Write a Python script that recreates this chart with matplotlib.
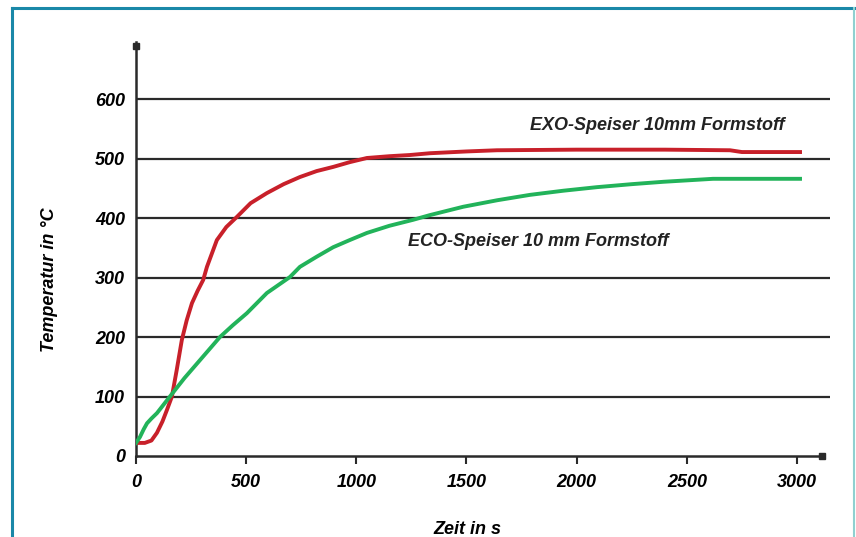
import numpy as np
import matplotlib.pyplot as plt
from matplotlib.lines import Line2D

# Werte
zeit_exo = [0, 40, 70, 95, 120, 140, 163, 185, 208, 230, 254, 280, 305, 322, 367, 410, 458, 520, 594, 670,
            744, 820, 895, 970, 1048, 1150, 1243, 1334, 1500, 1638, 2000, 2400, 2696, 2750, 3014]
temp_exo = [22, 22, 26, 39, 58, 77, 100, 145, 195, 228, 257, 278, 296, 318, 363, 385, 402, 425, 442, 457,
            469, 479, 486, 494, 501, 504, 506, 509, 512, 514, 515, 515, 514, 511, 511]
zeit_eco = [0, 18, 35, 50, 70, 95, 154, 220, 290, 381, 440, 503, 594, 699, 744, 820, 895, 970, 1048, 1150,
            1257, 1334, 1485, 1640, 1788, 1940, 2093, 2250, 2394, 2619, 2800, 3014]
temp_eco = [22, 32, 45, 55, 63, 72, 100, 131, 161, 200, 220, 240, 274, 301, 318, 335, 351, 363, 375, 387,
            397, 405, 419, 430, 439, 446, 452, 457, 461, 466, 466, 466]

x_ticks = [0, 500, 1000, 1500, 2000, 2500, 3000]
y_ticks = [0, 100, 200, 300, 400, 500, 600]
label_exo = 'EXO-Speiser 10mm Formstoff'
label_eco = 'ECO-Speiser 10 mm Formstoff'

schrift = ['Liberation Sans Narrow', 'Liberation Sans', 'DejaVu Sans']
plt.rcParams['font.family'] = schrift
plt.rcParams['font.weight'] = 'bold'
plt.rcParams['font.style'] = 'italic'
plt.rcParams['axes.labelweight'] = 'bold'

fig = plt.figure(figsize=(8.56, 5.37), dpi=100)
ax = fig.add_axes([136 / 856, 1 - 456 / 537, (830 - 136) / 856, (456 - 42) / 537])
ax.set_xlim(0, 3150)
ax.set_ylim(0, 696)

# Gitterlinien
for y in y_ticks[1:]:
    ax.axhline(y, color='#2a2a2a', lw=1.6, zorder=1)

ax.plot(zeit_exo, temp_exo, color='#c8202a', lw=2.8, zorder=3)
ax.plot(zeit_eco, temp_eco, color='#22b35a', lw=2.8, zorder=3)

ax.text(1788, 556, label_exo, fontsize=13, va='center', ha='left', color='#222222')
ax.text(1235, 361, label_eco, fontsize=13, va='center', ha='left', color='#222222')

for s in ['top', 'right']:
    ax.spines[s].set_visible(False)
ax.spines['bottom'].set_bounds(0, 3113)
ax.spines['left'].set_bounds(0, 696)
ax.spines['bottom'].set_linewidth(1.8)
ax.spines['left'].set_linewidth(1.8)
ax.spines['bottom'].set_color('#2a2a2a')
ax.spines['left'].set_color('#2a2a2a')
# Pfeilspitzen
ax.plot([3113], [0], marker='s', ms=4, color='#2a2a2a', clip_on=False)
ax.plot([0], [690], marker='s', ms=4, color='#2a2a2a', clip_on=False)

ax.set_xticks(x_ticks)
ax.set_yticks(y_ticks)
ax.tick_params(axis='x', length=6, width=1.5, color='#2a2a2a', pad=7, labelsize=13)
ax.tick_params(axis='y', length=0, pad=8, labelsize=13)

ax.set_ylabel('Temperatur in °C', fontsize=13, fontweight='bold')
ax.yaxis.set_label_coords(-0.112, 0.425)
fig.text(467 / 856, 1 - 530 / 537, 'Zeit in s', fontsize=13, ha='center', va='center',
         family=schrift, weight='bold', style='italic')

# Rahmen
fig.add_artist(Line2D([12 / 856, 12 / 856], [0, 1 - 8 / 537], color='#1a88a8', lw=2.2))
fig.add_artist(Line2D([12 / 856, 1], [1 - 8 / 537, 1 - 8 / 537], color='#1a88a8', lw=2.2))
fig.add_artist(Line2D([854 / 856, 854 / 856], [0, 1 - 8 / 537], color='#8fd0d0', lw=1.5))

fig.savefig('out.png', dpi=100)
